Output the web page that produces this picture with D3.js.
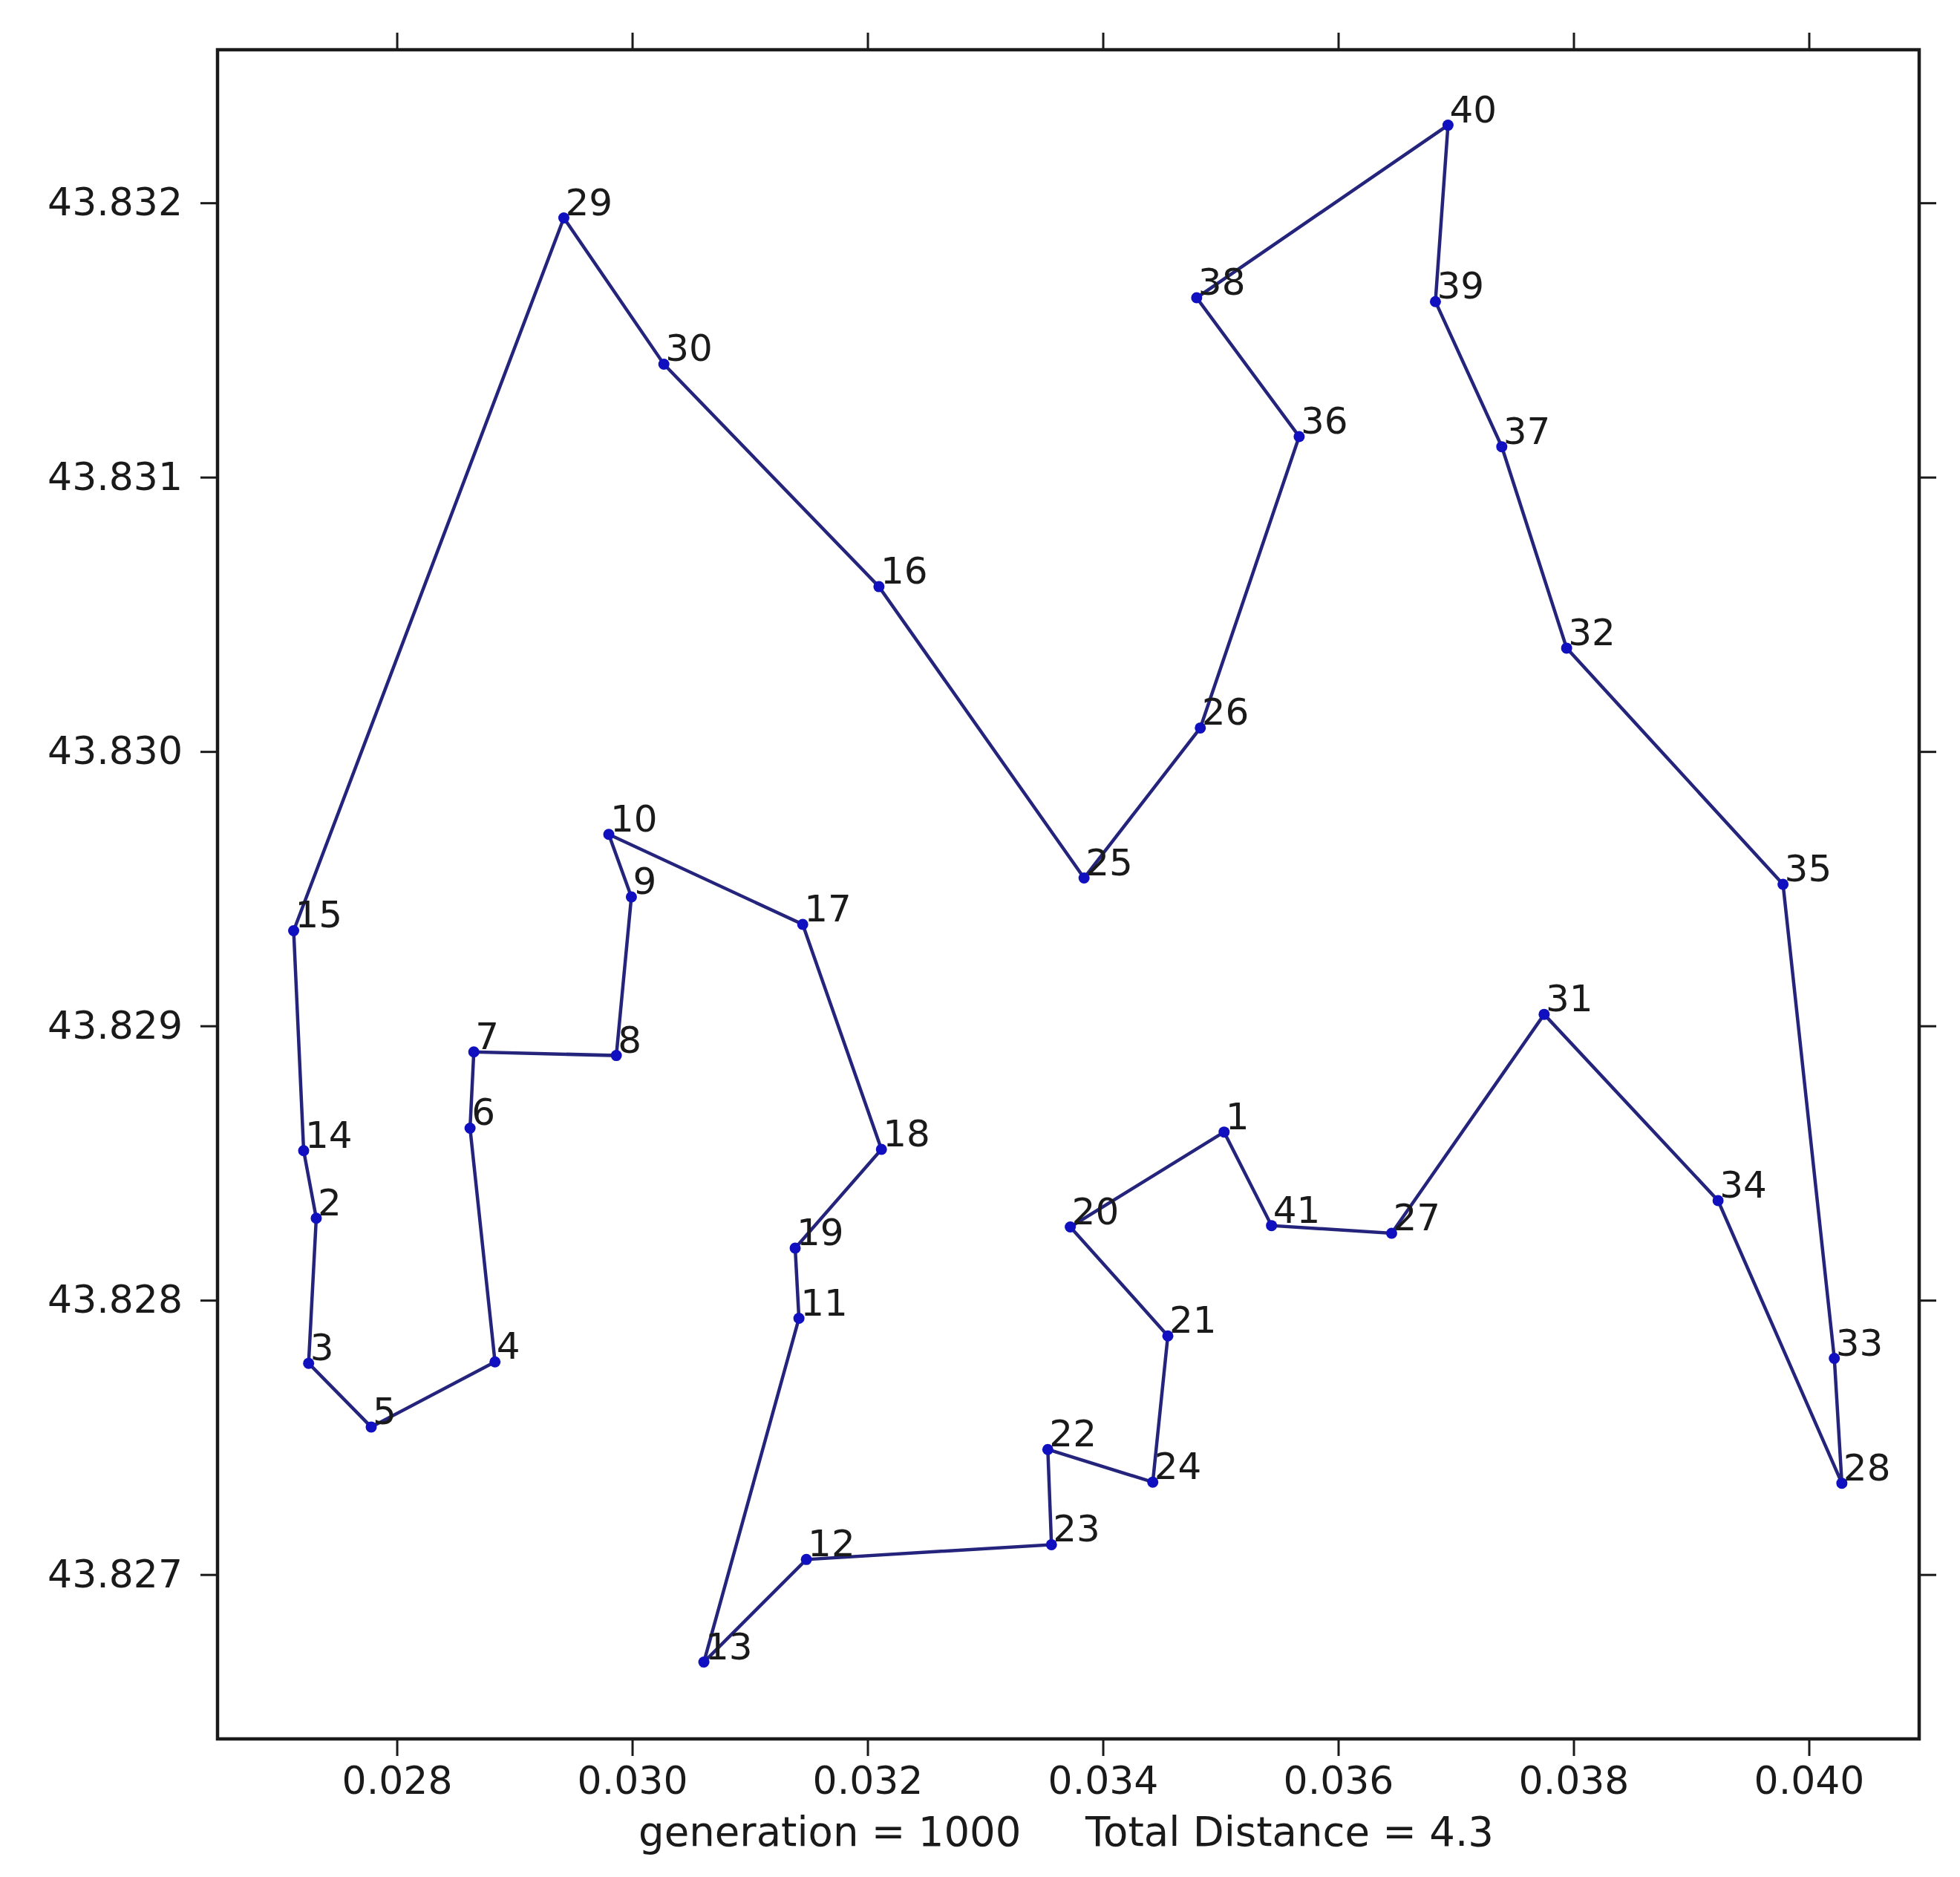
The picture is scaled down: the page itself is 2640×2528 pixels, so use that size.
<!DOCTYPE html>
<html>
<head>
<meta charset="utf-8">
<script src="https://cdn.jsdelivr.net/npm/d3@7"></script>
<style>
  body { margin: 0; background: #fff; }
  svg { display: block; }
  text { font-family: "DejaVu Sans"; fill: #1a1a1a; }
</style>
</head>
<body>
<svg id="chart" width="2640" height="2528"></svg>
<script>
// city coordinates, index 0 is city 1
var cityX = [
  0.03503, 0.027315, 0.02725, 0.028834, 0.027782, 0.028622, 0.028654, 0.029865, 0.029993, 0.029801,
  0.031417, 0.03148, 0.030609, 0.027208, 0.027123, 0.032097, 0.031449, 0.032118, 0.031385, 0.033723,
  0.034552, 0.033532, 0.033563, 0.034424, 0.03384, 0.034828, 0.036454, 0.04028, 0.029419, 0.030269,
  0.03775, 0.037941, 0.040216, 0.039228, 0.03978, 0.035668, 0.03739, 0.034797, 0.036826, 0.036933, 0.035433
];
var cityY = [
  43.828613, 43.828299, 43.82777, 43.827775, 43.827538, 43.828627, 43.828905, 43.828892, 43.82947, 43.829698,
  43.827934, 43.827055, 43.826681, 43.828545, 43.829347, 43.830601, 43.82937, 43.82855, 43.82819, 43.828267,
  43.82787, 43.827456, 43.827109, 43.827337, 43.829539, 43.830086, 43.828244, 43.827333, 43.831945, 43.831412,
  43.829042, 43.830377, 43.827788, 43.828363, 43.829516, 43.831148, 43.831111, 43.831654, 43.83164, 43.832283, 43.828272
];
// best tour found, closed back on 15
var route = [15, 29, 30, 16, 25, 26, 36, 38, 40, 39, 37, 32, 35, 33, 28, 34, 31, 27, 41, 1, 20, 21, 24, 22, 23,
  12, 13, 11, 19, 18, 17, 10, 9, 8, 7, 6, 4, 5, 3, 2, 14, 15];
var xTicks = [0.028, 0.030, 0.032, 0.034, 0.036, 0.038, 0.040];
var yTicks = [43.827, 43.828, 43.829, 43.830, 43.831, 43.832];
var xDomain = [0.026476, 0.040937];
var yDomain = [43.826401, 43.832558];
var caption = "generation = 1000\u00a0\u00a0\u00a0\u00a0\u00a0Total Distance = 4.3";

var left = 293, right = 2585, top_ = 67, bottom = 2342;

var x = d3.scaleLinear().domain(xDomain).range([left, right]);
var y = d3.scaleLinear().domain(yDomain).range([bottom, top_]);

var svg = d3.select("#chart");
var fmt = d3.format(".3f");

function styleAxis(g) {
  g.select(".domain").remove();
  g.selectAll(".tick line").attr("stroke", "#1a1a1a").attr("stroke-width", 3);
  g.selectAll(".tick text").attr("font-size", 52).attr("fill", "#1a1a1a").attr("font-family", "DejaVu Sans");
}

svg.append("g").attr("transform", "translate(0," + bottom + ")")
  .call(d3.axisBottom(x).tickValues(xTicks).tickFormat(fmt).tickSize(23).tickPadding(14))
  .call(styleAxis);
svg.append("g").attr("transform", "translate(0," + top_ + ")")
  .call(d3.axisTop(x).tickValues(xTicks).tickFormat("").tickSize(23))
  .call(styleAxis);
svg.append("g").attr("transform", "translate(" + left + ",0)")
  .call(d3.axisLeft(y).tickValues(yTicks).tickFormat(fmt).tickSize(23).tickPadding(24))
  .call(styleAxis);
svg.append("g").attr("transform", "translate(" + right + ",0)")
  .call(d3.axisRight(y).tickValues(yTicks).tickFormat("").tickSize(23))
  .call(styleAxis);

// frame
svg.append("rect")
  .attr("x", left).attr("y", top_)
  .attr("width", right - left).attr("height", bottom - top_)
  .attr("fill", "none").attr("stroke", "#1a1a1a").attr("stroke-width", 4.5);

// tour
var line = d3.line()
  .x(function(d) { return x(cityX[d - 1]); })
  .y(function(d) { return y(cityY[d - 1]); });

svg.append("path")
  .datum(route)
  .attr("d", line)
  .attr("fill", "none")
  .attr("stroke", "#24247c")
  .attr("stroke-width", 4.5);

svg.append("g").selectAll("circle")
  .data(cityX)
  .enter().append("circle")
  .attr("cx", function(d) { return x(d); })
  .attr("cy", function(d, i) { return y(cityY[i]); })
  .attr("r", 7.5)
  .attr("fill", "#1010c0");

svg.append("g").selectAll("text")
  .data(cityX)
  .enter().append("text")
  .attr("x", function(d) { return x(d) + 2; })
  .attr("y", function(d, i) { return y(cityY[i]) - 4; })
  .attr("font-size", 50)
  .text(function(d, i) { return i + 1; });

svg.append("text")
  .attr("x", 1436).attr("y", 2486)
  .attr("text-anchor", "middle")
  .attr("font-size", 54.5)
  .text(caption);
</script>
</body>
</html>
